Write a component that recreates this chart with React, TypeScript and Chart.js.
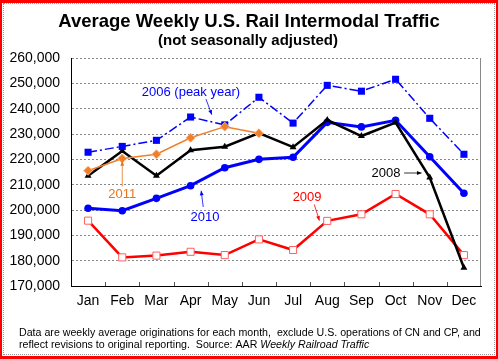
import React, { useEffect, useRef } from "react";
import { Chart, registerables } from "chart.js";
Chart.register(...registerables);

const months = ["Jan", "Feb", "Mar", "Apr", "May", "Jun", "Jul", "Aug", "Sep", "Oct", "Nov", "Dec"];
const y2006 = [222800, 225100, 227500, 236700, 233600, 244500, 234300, 249200, 246900, 251600, 236200, 222000];
const y2008 = [213500, 223300, 213500, 223600, 225000, 230400, 224800, 235500, 229200, 234500, 212800, 177200];
const y2009 = [195800, 181300, 182000, 183500, 182200, 188400, 184200, 195700, 198300, 206300, 198300, 182200];
const y2010 = [200700, 199700, 204600, 209600, 216700, 220000, 220800, 234600, 232800, 235400, 221000, 206600];
const y2011 = [215500, 220300, 222000, 228500, 232900, 230300];
const yTicks = { min: 170000, max: 260000, step: 10000 };

const titleText = "Average Weekly U.S. Rail Intermodal Traffic";
const subtitleText = "(not seasonally adjusted)";
const footLine1 = "Data are weekly average originations for each month,  exclude U.S. operations of CN and CP, and";
const footLine2 = "reflect revisions to original reporting.  Source: AAR ";
const footItalic = "Weekly Railroad Traffic";

// annotation labels in data coordinates: [category index, value]
const labels = [
  { text: "2006 (peak year)", color: "#0000ff", at: [3.01, 246600], from: [3.45, 243800], to: [3.62, 237600] },
  { text: "2011", color: "#e8731e", at: [1.0, 206300], from: [1.0, 209300], to: [1.0, 219300] },
  { text: "2010", color: "#0000ff", at: [3.42, 197200], from: [3.37, 201200], to: [3.31, 207600] },
  { text: "2009", color: "#ff0000", at: [6.41, 205000], from: [6.62, 202200], to: [6.77, 195800] },
  { text: "2008", color: "#000000", at: [8.72, 214600], from: [9.25, 214600], to: [9.76, 214600] },
];

const FONT = "'Liberation Sans', Arial, sans-serif";

export default function App() {
  const ref = useRef<HTMLCanvasElement | null>(null);
  useEffect(() => {
    const canvas = ref.current!;
    const decor = {
      id: "decor",
      afterDraw(chart: any) {
        const ctx = chart.ctx as CanvasRenderingContext2D;
        const xs = chart.scales.x;
        const ys = chart.scales.y;
        const a = chart.chartArea;
        ctx.save();
        // right frame
        ctx.strokeStyle = "#888";
        ctx.lineWidth = 1;
        ctx.beginPath();
        ctx.moveTo(a.right - 0.5, a.top);
        ctx.lineTo(a.right - 0.5, a.bottom);
        ctx.stroke();
        // inner tick marks on x axis
        ctx.strokeStyle = "#555";
        const w = (a.right - a.left) / months.length;
        for (let i = 1; i < months.length; i++) {
          const x = Math.round(a.left + i * w) + 0.5;
          ctx.beginPath();
          ctx.moveTo(x, a.bottom);
          ctx.lineTo(x, a.bottom - 4);
          ctx.stroke();
        }
        // titles
        ctx.fillStyle = "#000";
        ctx.textAlign = "center";
        ctx.textBaseline = "alphabetic";
        ctx.font = `bold 18.5px ${FONT}`;
        ctx.fillText(titleText, 249, 27);
        ctx.font = `bold 15px ${FONT}`;
        ctx.fillText(subtitleText, 248, 45);
        // footer
        ctx.textAlign = "left";
        ctx.font = `10.65px ${FONT}`;
        ctx.fillText(footLine1, 19, 336);
        ctx.fillText(footLine2, 19, 348);
        const w2 = ctx.measureText(footLine2).width;
        ctx.font = `italic 10.65px ${FONT}`;
        ctx.fillText(footItalic, 19 + w2, 348);
        // annotations
        const px = (i: number) => {
          const p0 = xs.getPixelForValue(0);
          const p1 = xs.getPixelForValue(1);
          return p0 + i * (p1 - p0);
        };
        const py = (v: number) => ys.getPixelForValue(v);
        ctx.textAlign = "center";
        ctx.textBaseline = "middle";
        for (const l of labels) {
          ctx.fillStyle = l.color;
          ctx.strokeStyle = l.color;
          ctx.font = `13px ${FONT}`;
          ctx.fillText(l.text, px(l.at[0]), py(l.at[1]));
          const x1 = px(l.from[0]), y1 = py(l.from[1]);
          const x2 = px(l.to[0]), y2 = py(l.to[1]);
          ctx.lineWidth = 0.8;
          ctx.beginPath();
          ctx.moveTo(x1, y1);
          ctx.lineTo(x2, y2);
          ctx.stroke();
          const ang = Math.atan2(y2 - y1, x2 - x1);
          const h = 5;
          ctx.beginPath();
          ctx.moveTo(x2, y2);
          ctx.lineTo(x2 - h * Math.cos(ang - 0.4), y2 - h * Math.sin(ang - 0.4));
          ctx.lineTo(x2 - h * Math.cos(ang + 0.4), y2 - h * Math.sin(ang + 0.4));
          ctx.closePath();
          ctx.fill();
        }
        ctx.restore();
      },
    };
    const chart = new Chart(canvas, {
      type: "line",
      data: {
        labels: months,
        datasets: [
          {
            label: "2011", data: y2011, order: 0,
            borderColor: "#f07f2a", borderWidth: 1.5,
            pointStyle: "rectRot", pointRadius: 4.5, pointBackgroundColor: "#f07f2a", pointBorderColor: "#f8b080", pointBorderWidth: 1,
          },
          {
            label: "2006", data: y2006, order: 1,
            borderColor: "#0000ff", borderWidth: 1.5, borderDash: [9, 3, 2, 3],
            pointStyle: "rect", pointRadius: 5, pointBackgroundColor: "#0000ff", pointBorderColor: "#0000ff", pointBorderWidth: 0,
          },
          {
            label: "2008", data: y2008, order: 2,
            borderColor: "#000000", borderWidth: 2.5,
            pointStyle: "triangle", pointRadius: 4, pointBackgroundColor: "#000", pointBorderColor: "#000", pointBorderWidth: 0,
          },
          {
            label: "2010", data: y2010, order: 3,
            borderColor: "#0000ff", borderWidth: 3,
            pointStyle: "circle", pointRadius: 3.8, pointBackgroundColor: "#0000ff", pointBorderColor: "#0000ff", pointBorderWidth: 0,
          },
          {
            label: "2009", data: y2009, order: 4,
            borderColor: "#ff0000", borderWidth: 2.5,
            pointStyle: "rect", pointRadius: 5, pointBackgroundColor: "#ffffff", pointBorderColor: "#ff6060", pointBorderWidth: 1,
          },
        ],
      },
      options: {
        responsive: false,
        animation: false,
        devicePixelRatio: 1,
        layout: { padding: { top: 58, right: 17, left: 0, bottom: 43 } },
        plugins: { legend: { display: false }, tooltip: { enabled: false }, title: { display: false } },
        scales: {
          x: {
            offset: true,
            grid: { display: false, drawTicks: false },
            border: { color: "#000", width: 1 },
            ticks: { color: "#000", font: { family: FONT, size: 14 }, padding: 7, maxRotation: 0 },
            afterFit: (s: any) => { s.height = 30; },
          },
          y: {
            min: yTicks.min, max: yTicks.max,
            grid: { color: "#888", lineWidth: 1, drawTicks: false },
            border: { color: "#000", width: 1, dash: [2, 2] },
            ticks: {
              stepSize: yTicks.step, color: "#000", padding: 11,
              font: { family: FONT, size: 14 },
              callback: (v: any) => Number(v).toLocaleString("en-US"),
            },
            afterFit: (s: any) => { s.width = 71; },
          },
        },
      },
      plugins: [decor],
    });
    return () => chart.destroy();
  }, []);
  return (
    <div style={{ position: "absolute", left: 0, top: 0, width: 498, height: 359, background: "#fff" }}>
      <div style={{ position: "absolute", inset: 0, borderStyle: "solid", borderColor: "#ff0000", borderWidth: "3px 2px 3px 2px" }} />
      <div style={{ position: "absolute", left: 3, top: 3, right: 3, bottom: 4, border: "1px dotted #999" }} />
      <canvas ref={ref} width={498} height={359} style={{ position: "absolute", left: 0, top: 0 }} />
    </div>
  );
}
